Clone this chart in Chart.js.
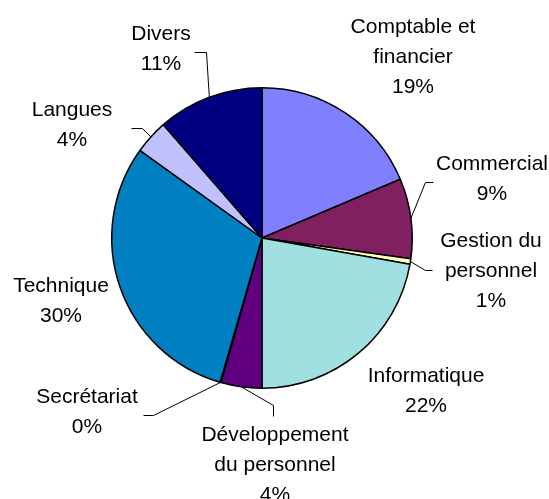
<!DOCTYPE html>
<html>
<head>
<meta charset="utf-8">
<script src="https://cdn.jsdelivr.net/npm/chart.js@4"></script>
<style>
  html, body { margin: 0; padding: 0; background: #fff; }
  canvas { display: block; }
</style>
</head>
<body>
<canvas id="pie" width="549" height="499"></canvas>
<script>
// data (share of total, in %)
const categories = [
    ['Comptable et', 'financier'],
    ['Commercial'],
    ['Gestion du', 'personnel'],
    ['Informatique'],
    ['Développement', 'du personnel'],
    ['Secrétariat'],
    ['Technique'],
    ['Langues'],
    ['Divers']
];
const values = [18.6, 8.6, 0.6, 22.2, 4.4, 0.1, 30.4, 3.7, 11.4];
const colors = ['#8080FF', '#802060', '#FFFFC0', '#A0E0E0', '#600080', '#FF8080', '#0080C0', '#C0C0FF', '#000080'];

// label layout: centre of first text line, and optional leader line (elbow, end)
const labelPos = [[413, 27], [492, 164], [491, 241], [426, 376], [275, 435], [87, 397], [61, 286], [72, 110], [161, 34]];
const leaders = [
    null,
    [[425, 182], [433, 182]],
    [[425, 270], [432, 270]],
    null,
    [[273, 405], [273, 416]],
    [[153, 415], [143, 415]],
    null,
    [[142, 128], [131, 128]],
    [[206, 52], [194, 52]]
];
const LINE_H = 30;

const outsideLabels = {
    id: 'outsideLabels',
    afterDatasetsDraw(chart) {
        const ctx = chart.ctx;
        const meta = chart.getDatasetMeta(0);
        const total = values.reduce((a, b) => a + b, 0);
        ctx.save();
        ctx.strokeStyle = '#000';
        ctx.lineWidth = 1;
        meta.data.forEach((arc, i) => {
            const mid = (arc.startAngle + arc.endAngle) / 2;
            const ax = arc.x + arc.outerRadius * Math.cos(mid);
            const ay = arc.y + arc.outerRadius * Math.sin(mid);
            if (leaders[i]) {
                ctx.beginPath();
                ctx.moveTo(ax, ay);
                ctx.lineTo(leaders[i][0][0] + 0.5, leaders[i][0][1] + 0.5);
                ctx.lineTo(leaders[i][1][0] + 0.5, leaders[i][1][1] + 0.5);
                ctx.stroke();
            }
            const lines = categories[i].concat([Math.round(values[i] / total * 100) + '%']);
            ctx.fillStyle = '#000';
            ctx.font = '21px "Liberation Sans", Arial, sans-serif';
            ctx.textAlign = 'center';
            ctx.textBaseline = 'middle';
            lines.forEach((t, k) => {
                ctx.fillText(t, labelPos[i][0], labelPos[i][1] + k * LINE_H);
            });
        });
        ctx.restore();
    }
};

new Chart(document.getElementById('pie'), {
    type: 'pie',
    data: {
        labels: categories.map(c => c.join(' ')),
        datasets: [{
            data: values,
            backgroundColor: colors,
            borderColor: '#000',
            borderWidth: 1.5
        }]
    },
    options: {
        responsive: false,
        animation: false,
        layout: { padding: { left: 111, right: 136, top: 87, bottom: 110 } },
        plugins: {
            legend: { display: false },
            tooltip: { enabled: false }
        }
    },
    plugins: [outsideLabels]
});
</script>
</body>
</html>
